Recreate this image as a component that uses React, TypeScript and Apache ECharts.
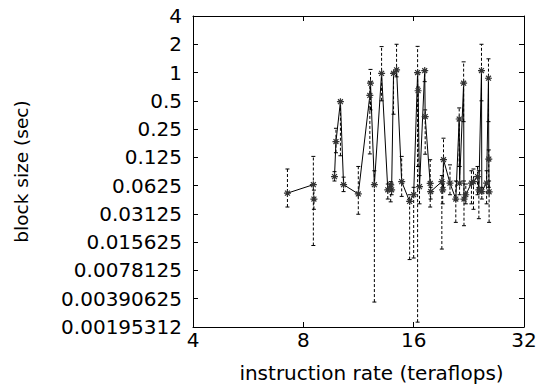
import React, { useEffect, useRef } from "react";
import * as echarts from "echarts";

// instruction rate (teraflops)
const xVals = [7.24, 8.52, 8.55, 9.73, 9.82, 10.1, 10.3, 11.3, 12.15, 12.2, 12.5, 13.08, 13.6, 13.85, 13.93, 14.1, 14.37, 14.84, 15.6, 16.0, 16.4, 16.45, 16.6, 17.15, 17.2, 17.75, 17.8, 19.1, 19.2, 19.3, 20.1, 20.85, 21.3, 21.35, 21.9, 21.95, 22.2, 23.0, 23.3, 23.9, 24.1, 24.5, 24.55, 25.3, 25.6, 25.65, 25.7];
// block size (sec)
const yVals = [0.052, 0.064, 0.045, 0.078, 0.184, 0.49, 0.064, 0.051, 0.57, 0.77, 0.064, 0.98, 0.0564, 0.0638, 0.0564, 0.98, 1.07, 0.069, 0.0424, 0.05, 1.0, 0.64, 0.061, 1.05, 0.34, 0.066, 0.054, 0.069, 0.0564, 0.118, 0.0665, 0.045, 0.32, 0.0665, 0.77, 0.045, 0.05, 0.0665, 0.069, 0.078, 0.0564, 1.05, 0.054, 0.0665, 0.87, 0.12, 0.0537];
const yLow = [0.037, 0.0144, 0.035, 0.07, 0.14, 0.13, 0.054, 0.031, 0.136, 0.4, 0.0036, 0.5, 0.045, 0.042, 0.05, 0.36, 0.9, 0.048, 0.0102, 0.0106, 0.0022, 0.1, 0.04, 0.8, 0.135, 0.037, 0.045, 0.0132, 0.04, 0.06, 0.05, 0.0254, 0.1, 0.05, 0.3, 0.0234, 0.04, 0.04, 0.035, 0.05, 0.0278, 0.5, 0.045, 0.04, 0.3, 0.06, 0.0254];
const yHigh = [0.094, 0.128, 0.056, 0.088, 0.255, 0.5, 0.077, 0.1, 0.8, 1.08, 0.09, 1.89, 0.065, 0.069, 0.065, 1.0, 2.0, 0.128, 0.05, 0.06, 1.9, 0.7, 0.08, 1.07, 0.4, 0.118, 0.06, 0.08, 0.065, 0.2, 0.104, 0.07, 0.42, 0.1, 1.3, 0.07, 0.065, 0.09, 0.094, 0.1, 0.09, 2.0, 0.06, 0.09, 1.4, 0.15, 0.07];
// line segment each point belongs to
const segments = [0, 0, 1, 2, 2, 2, 2, 2, 2, 2, 2, 2, 2, 2, 2, 2, 2, 2, 2, 2, 2, 2, 2, 2, 2, 2, 2, 2, 2, 2, 2, 2, 2, 2, 2, 2, 2, 2, 2, 2, 2, 2, 2, 2, 2, 2, 2];

const xTickLabels = ["4", "8", "16", "32"];
const yTickLabels = ["0.00195312", "0.00390625", "0.0078125", "0.015625", "0.03125", "0.0625", "0.125", "0.25", "0.5", "1", "2", "4"];

const FONT = "DejaVu Sans";
const STAR = "path://M5,0L5,10M0,5L10,5M1.5,1.5L8.5,8.5M1.5,8.5L8.5,1.5";

export default function App() {
  const ref = useRef<HTMLDivElement>(null);
  useEffect(() => {
    if (!ref.current) return;
    const chart = echarts.init(ref.current, null, { renderer: "svg" });
    const segIds = Array.from(new Set(segments));
    const lineSeries = segIds.map((s) => ({
      type: "line",
      xAxisIndex: 0,
      yAxisIndex: 0,
      data: xVals.map((x, i) => [x, yVals[i]]).filter((_, i) => segments[i] === s),
      symbol: STAR,
      symbolSize: 7,
      showSymbol: true,
      lineStyle: { color: "#000", width: 1 },
      itemStyle: { color: "none", borderColor: "#333", borderWidth: 1.2 },
      z: 3,
    }));
    const errData = xVals.map((x, i) => [x, yVals[i], yLow[i], yHigh[i]]);
    const xLab = (v: number) => xTickLabels[Math.round(Math.log2(v)) - 2] ?? "";
    const yLab = (v: number) => yTickLabels[Math.round(Math.log2(v)) + 9] ?? "";
    const baseX = {
      type: "log",
      logBase: 2,
      min: 4,
      max: 32,
      interval: 1,
      splitNumber: 3,
      splitLine: { show: false },
      axisLine: { show: true, lineStyle: { color: "#000", width: 1 } },
      axisTick: { show: true, inside: true, length: 5, lineStyle: { color: "#000" } },
    };
    const baseY = {
      type: "log",
      logBase: 2,
      min: 0.001953125,
      max: 4,
      interval: 1,
      splitNumber: 11,
      splitLine: { show: false },
      axisLine: { show: true, lineStyle: { color: "#000", width: 1 } },
      axisTick: { show: true, inside: true, length: 5, lineStyle: { color: "#000" } },
    };
    chart.setOption({
      animation: false,
      grid: { left: 193, right: 25, top: 16, bottom: 64 },
      xAxis: [
        {
          ...baseX,
          position: "bottom",
          name: "instruction rate (teraflops)",
          nameLocation: "middle",
          nameGap: 36,
          nameTextStyle: { fontFamily: FONT, fontSize: 20, color: "#000", padding: [0, 0, 0, 26] },
          axisLabel: { formatter: xLab, fontFamily: FONT, fontSize: 20, color: "#000", margin: 3 },
        },
        { ...baseX, position: "top", axisLabel: { show: false } },
      ],
      yAxis: [
        {
          ...baseY,
          position: "left",
          name: "block size (sec)",
          nameLocation: "middle",
          nameGap: 162,
          nameRotate: 90,
          nameTextStyle: { fontFamily: FONT, fontSize: 18.5, color: "#000" },
          axisLabel: { formatter: yLab, fontFamily: FONT, fontSize: 20, color: "#000", margin: 11 },
        },
        { ...baseY, position: "right", axisLabel: { show: false } },
      ],
      series: [
        {
          type: "custom",
          xAxisIndex: 0,
          yAxisIndex: 0,
          data: errData,
          encode: { x: 0, y: [2, 3] },
          z: 2,
          renderItem: (params: any, api: any) => {
            const x = api.value(0);
            const lo = api.coord([x, api.value(2)]);
            const hi = api.coord([x, api.value(3)]);
            const st = { stroke: "#000", lineWidth: 1, lineDash: [3, 2] };
            const tk = { stroke: "#000", lineWidth: 1 };
            return {
              type: "group",
              children: [
                { type: "line", shape: { x1: lo[0], y1: lo[1], x2: hi[0], y2: hi[1] }, style: st },
                { type: "line", shape: { x1: lo[0] - 2, y1: lo[1], x2: lo[0] + 2, y2: lo[1] }, style: tk },
                { type: "line", shape: { x1: hi[0] - 2, y1: hi[1], x2: hi[0] + 2, y2: hi[1] }, style: tk },
              ],
            };
          },
        },
        ...lineSeries,
      ],
    } as any);
    return () => chart.dispose();
  }, []);
  return <div ref={ref} style={{ width: 549, height: 391, position: "absolute", left: 0, top: 0 }} />;
}
